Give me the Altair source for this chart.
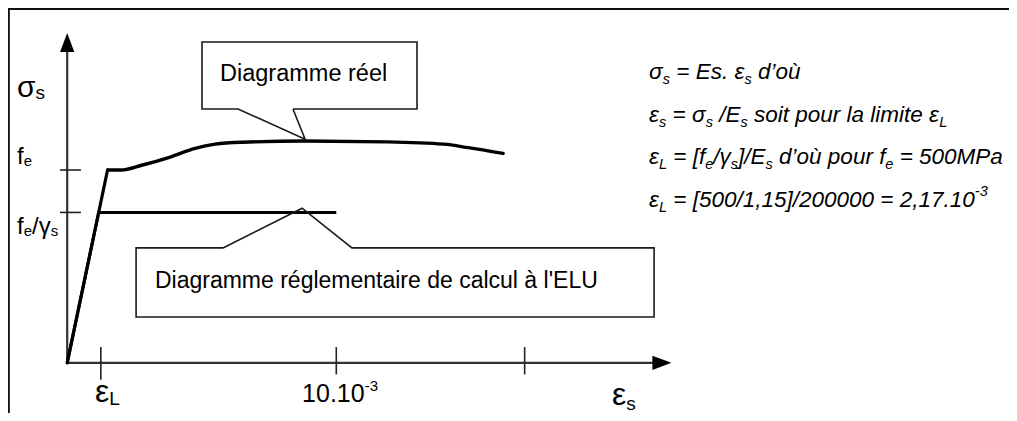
import altair as alt
import pandas as pd

# ---------------- data (schematic units: strain in 1e-3, stress in MPa) ----------------
real_eps = [0.0, 1.5, 2.0, 2.8, 3.8, 4.75, 5.5, 6.5, 8.8, 11.9, 14.0, 14.9, 16.2]
real_sig = [0, 500, 500, 513, 533, 556, 567, 572, 575, 573, 567, 558, 543]
design_eps = [0.0, 1.17, 10.0]
design_sig = [0, 390, 390]

x_tick_vals = [1.25, 10.0, 17.0]
x_tick_low = [-44, -30, -30]
y_tick_vals = [500, 390]

# call-out outlines (closed polygons with pointer)
real_box_eps = [8.39, 13.0, 13.0, 5.01, 5.01, 6.35, 8.84, 8.39]
real_box_sig = [658, 658, 832, 832, 658, 658, 580, 658]
elu_box_eps = [5.79, 2.56, 2.56, 21.81, 21.81, 10.58, 8.73, 5.79]
elu_box_sig = [298, 298, 119, 119, 298, 298, 401, 298]

box_texts = ["Diagramme réel", "Diagramme réglementaire de calcul à l'ELU"]
box_text_eps = [5.68, 3.26]
box_text_sig = [731, 194]
box_text_size = [23.5, 23]

formula_lines = [
    [("σ", "n"), ("s", "sub"), (" = Es. ", "n"), ("ε", "n"), ("s", "sub"), (" d’où", "n")],
    [("ε", "n"), ("s", "sub"), (" = ", "n"), ("σ", "n"), ("s", "sub"), (" /E", "n"), ("s", "sub"),
     (" soit pour la limite ", "n"), ("ε", "n"), ("L", "sub")],
    [("ε", "n"), ("L", "sub"), (" = [f", "n"), ("e", "sub"), ("/γ", "n"), ("s", "sub"), ("]/E", "n"),
     ("s", "sub"), (" d’où pour f", "n"), ("e", "sub"), (" = 500MPa", "n")],
    [("ε", "n"), ("L", "sub"), (" = [500/1,15]/200000 = 2,17.10", "n"), ("-3", "sup")],
]
formula_eps0 = 21.62
formula_sig = [736, 624, 516, 404]

y_title = [("σ", "n"), ("s", "sub")]
x_title = [("ε", "n"), ("s", "sub")]
y_tick_labels = [[("f", "n"), ("e", "sub")], [("f", "n"), ("e", "sub"), ("/γ", "n"), ("s", "sub")]]
y_tick_label_sig = [516, 334]
x_tick_labels = [[("ε", "n"), ("L", "sub")], [("10.10", "n"), ("-3", "sup")]]
x_tick_label_eps = [1.03, 8.73]

# ---------------- geometry of the drawing ----------------
W, H = 1001, 405
XMIN, XMAX = -2.2, 35.0
YMIN, YMAX = -130.0, 920.0
PX = W / (XMAX - XMIN)
PY = H / (YMAX - YMIN)
FONT = "Liberation Sans"

EM = {' ': .278, '=': .584, 'E': .667, 's': .5, '.': .278, 'd': .556, '’': .222, "'": .191,
      'o': .556, 'ù': .556, 'p': .556, 'u': .556, 'r': .333, 'i': .222, 't': .278, 'l': .222,
      'a': .556, 'm': .833, 'e': .556, '[': .278, ']': .278, '/': .278, 'f': .278, 'M': .833,
      'P': .667, ',': .278, '-': .333, 'L': .556, 'σ': .617, 'ε': .446, 'γ': .5}


def tw(s, fs):
    return sum(EM.get(c, 0.556) for c in s) * fs


def runs(frags, x0, y0, fs, fs_small, sub_dy, sup_dy, italic):
    rows, off = [], 0.0
    for t, k in frags:
        size = fs if k == "n" else fs_small
        dy = 0 if k == "n" else (sub_dy if k == "sub" else -sup_dy)
        lead = len(t) - len(t.lstrip(" "))
        if t.strip():
            rows.append(dict(x=x0 + (off + tw(" " * lead, size)) / PX,
                             y=y0 - dy / PY, text=t.strip(), fs=size, it=italic))
        off += tw(t, size)
    return rows


text_rows = []
for frags, ys in zip(formula_lines, formula_sig):
    text_rows += runs(frags, formula_eps0, ys, 22.5, 14.5, 5, 11, True)
text_rows += runs(y_title, -1.866, 689, 30, 19, 2, 0, False)
text_rows += runs(x_title, 20.25, -109, 32, 19, 5, 0, False)
for frags, ys in zip(y_tick_labels, y_tick_label_sig):
    text_rows += runs(frags, -1.866, ys, 24, 15, 2, 0, False)
text_rows += runs(x_tick_labels[0], x_tick_label_eps[0], -101.5, 32, 19, 3, 0, False)
text_rows += runs(x_tick_labels[1], x_tick_label_eps[1], -101.5, 25, 15, 0, 11, False)
for t, xe, ys, fs in zip(box_texts, box_text_eps, box_text_sig, box_text_size):
    text_rows.append(dict(x=xe, y=ys, text=t, fs=fs, it=False))
texts = pd.DataFrame(text_rows)

seg = []
seg.append(dict(x=0, y=0, x2=0, y2=830, sw=2.2, col="#333333"))
seg.append(dict(x=0, y=0, x2=22.1, y2=0, sw=2.2, col="#333333"))
for v, lo in zip(x_tick_vals, x_tick_low):
    seg.append(dict(x=v, y=41, x2=v, y2=lo, sw=1.6, col="#222222"))
for v in y_tick_vals:
    seg.append(dict(x=-0.27, y=v, x2=0.51, y2=v, sw=1.6, col="#222222"))
seg.append(dict(x=-2.18, y=YMIN, x2=-2.18, y2=YMAX, sw=2.6, col="#111111"))
seg.append(dict(x=XMIN, y=918.2, x2=XMAX, y2=918.2, sw=2.6, col="#111111"))
segs = pd.DataFrame(seg)

real = pd.DataFrame({"x": real_eps, "y": real_sig, "i": range(len(real_eps))})
design = pd.DataFrame({"x": design_eps, "y": design_sig, "i": range(len(design_eps))})
boxes = pd.DataFrame(
    [dict(x=a, y=b, i=k, box="reel") for k, (a, b) in enumerate(zip(real_box_eps, real_box_sig))]
    + [dict(x=a, y=b, i=k, box="elu") for k, (a, b) in enumerate(zip(elu_box_eps, elu_box_sig))]
)
arrow_y = pd.DataFrame({"x": [0.0], "y": [830.6]})
arrow_x = pd.DataFrame({"x": [22.1], "y": [0.0]})

xs = alt.Scale(domain=[XMIN, XMAX], nice=False, zero=False)
ys_ = alt.Scale(domain=[YMIN, YMAX], nice=False, zero=False)
X = alt.X("x:Q", scale=xs, axis=None)
Y = alt.Y("y:Q", scale=ys_, axis=None)

rules = alt.Chart(segs).mark_rule(strokeCap="butt").encode(
    x=X, y=Y, x2="x2:Q", y2="y2:Q",
    strokeWidth=alt.StrokeWidth("sw:Q", scale=None),
    color=alt.Color("col:N", scale=None),
)

rise = alt.Chart(real).transform_filter("datum.i <= 1").mark_line(
    color="black", strokeWidth=3.2, strokeCap="round").encode(x=X, y=Y, order="i:Q")
plateau = alt.Chart(real).transform_filter("datum.i >= 1").mark_line(
    color="black", strokeWidth=3.4, strokeCap="round", interpolate="monotone").encode(x=X, y=Y, order="i:Q")
design_line = alt.Chart(design).mark_line(
    color="black", strokeWidth=3.0, strokeJoin="miter", strokeCap="butt").encode(x=X, y=Y, order="i:Q")

box_lines = alt.Chart(boxes).mark_line(
    color="#1a1a1a", strokeWidth=1.6, strokeJoin="miter").encode(
    x=X, y=Y, order="i:Q", detail="box:N")

head_y = alt.Chart(arrow_y).mark_point(
    shape="M0,-1L0.75,1L-0.75,1Z", size=361, filled=True, opacity=1, color="black").encode(x=X, y=Y)
head_x = alt.Chart(arrow_x).mark_point(
    shape="M1,0L-1,0.75L-1,-0.75Z", size=361, filled=True, opacity=1, color="black").encode(x=X, y=Y)

txt_norm = alt.Chart(texts).transform_filter("!datum.it").mark_text(
    align="left", baseline="alphabetic", font=FONT, color="black").encode(
    x=X, y=Y, text="text:N", size=alt.Size("fs:Q", scale=None))
txt_it = alt.Chart(texts).transform_filter("datum.it").mark_text(
    align="left", baseline="alphabetic", font=FONT, fontStyle="italic", color="black").encode(
    x=X, y=Y, text="text:N", size=alt.Size("fs:Q", scale=None))

chart = alt.layer(
    rules, design_line, rise, plateau, box_lines, head_y, head_x, txt_norm, txt_it
).properties(
    width=W, height=H, padding=0,
    autosize=alt.AutoSizeParams(type="none"),
    background="white",
).configure_view(stroke=None)

chart.save("out.html", embed_options={"renderer": "svg", "actions": False})
